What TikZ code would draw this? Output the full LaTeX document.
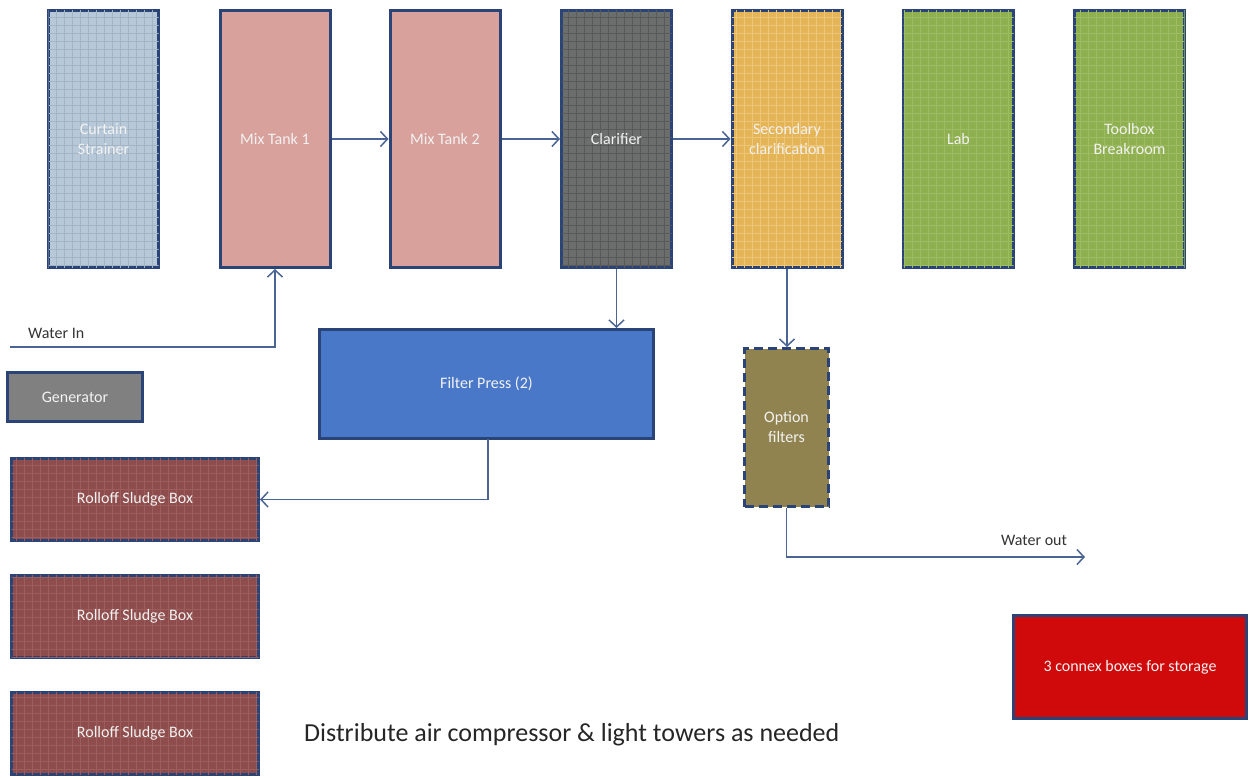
\documentclass[tikz,border=0pt]{standalone}
\usepackage{fontspec}
\setmainfont{Carlito}
\usetikzlibrary{arrows.meta,patterns.meta}
\definecolor{bord}{HTML}{2A4478}
\definecolor{conn}{HTML}{4A6494}
\definecolor{curtain}{HTML}{B7C8D8}
\definecolor{curtainP}{HTML}{A3B4C4}
\definecolor{mix}{HTML}{D8A19C}
\definecolor{clar}{HTML}{6C6E6E}
\definecolor{clarP}{HTML}{585A5A}
\definecolor{second}{HTML}{E4B457}
\definecolor{secondP}{HTML}{ECC679}
\definecolor{labg}{HTML}{8FB050}
\definecolor{labgP}{HTML}{9DBC63}
\definecolor{gen}{HTML}{808080}
\definecolor{fpress}{HTML}{4A78C8}
\definecolor{optf}{HTML}{918350}
\definecolor{roll}{HTML}{8E4C4C}
\definecolor{rollP}{HTML}{9C5E5C}
\definecolor{connex}{HTML}{D00A0A}
\definecolor{txtl}{HTML}{F2F2F2}
\tikzset{
  box/.style={draw=bord, line width=3pt, inner sep=0pt, text=txtl, font=\fontsize{16}{20}\selectfont, align=center},
  tall/.style={box, minimum width=110pt, minimum height=257pt},
  tex/.style={postaction={pattern={Hatch[angle=0,distance=8pt,line width=1pt]}, pattern color=#1}},
  sludge/.style={box, fill=roll, minimum width=247pt, minimum height=82pt, tex=rollP},
  flow/.style={draw=conn, line width=1.5pt, -{Straight Barb[length=7pt,width=15pt,line width=1.5pt]}},
  lbl/.style={text=black!80, font=\fontsize{16}{19}\selectfont, inner sep=0pt}
}
\begin{document}
\begin{tikzpicture}[x=1pt,y=-1pt]
\useasboundingbox (0,0) rectangle (1251,778);
\fill[white] (0,0) rectangle (1251,778);
% top row
\node[tall, fill=curtain, tex=curtainP] (cs) at (103.5,139) {Curtain\\Strainer};
\node[tall, fill=mix] (m1) at (275,139) {Mix Tank 1};
\node[tall, fill=mix] (m2) at (445,139) {Mix Tank 2};
\node[tall, fill=clar, tex=clarP] (cl) at (616.5,139) {Clarifier};
\node[tall, fill=second, tex=secondP] (sc) at (787,139) {Secondary\\clarification};
\node[tall, fill=labg, tex=labgP] (lab) at (958.5,139) {Lab};
\node[tall, fill=labg, tex=labgP] (tb) at (1129.5,139) {Toolbox\\Breakroom};
% middle
\node[box, fill=gen, minimum width=135pt, minimum height=49pt] (gen) at (75,397) {Generator};
\node[box, fill=fpress, minimum width=334pt, minimum height=109pt] (fp) at (486.5,384) {Filter Press (2)};
\node[box, fill=optf, draw=bord, dashed, dash pattern=on 9pt off 5pt, minimum width=84pt, minimum height=158pt] (of) at (786.5,427.5) {Option\\filters};
% sludge boxes
\node[sludge] (r1) at (135,499.5) {Rolloff Sludge Box};
\node[sludge] (r2) at (135,616) {Rolloff Sludge Box};
\node[sludge] (r3) at (135,733) {Rolloff Sludge Box};
% connex
\node[box, fill=connex, minimum width=233pt, minimum height=103pt] (cx) at (1130,667) {3 connex boxes for storage};
% connectors
\draw[flow] (m1) -- (m2);
\draw[flow] (m2) -- (cl);
\draw[flow] (cl) -- (sc);
\coordinate (win) at (10,347);
\draw[flow] (win) -| (m1.south);
\draw[flow] (cl.south) -- (cl.south |- fp.north);
\draw[flow] (sc.south) -- (sc.south |- of.north);
\coordinate (fpo) at (488,438.5);
\draw[flow] (fpo) |- (r1.east);
\coordinate (wout) at (1085,557);
\draw[flow] (of.south) |- (wout);
% labels
\node[lbl, anchor=west] (winl) at (28,333) {Water In};
\node[lbl, anchor=west] (woutl) at (1001,540) {Water out};
\node[text=black!85, font=\fontsize{26}{30}\selectfont, inner sep=0pt, anchor=west] (note) at (304,735) {Distribute air compressor \& light towers as needed};
\end{tikzpicture}
\end{document}
